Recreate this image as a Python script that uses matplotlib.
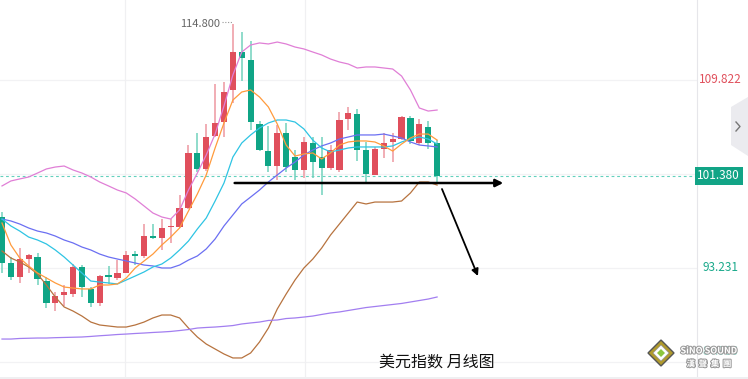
import numpy as np
import matplotlib
matplotlib.use('Agg')
import matplotlib.pyplot as plt
from matplotlib.patches import Polygon, Rectangle
from matplotlib.lines import Line2D
import matplotlib.patheffects as pe

plt.rcParams['font.family'] = ['Noto Sans CJK SC', 'DejaVu Sans']

# monthly candles
opens = [97.73, 93.67, 92.44, 94.05, 94.20, 92.08, 90.14, 90.85, 90.94, 93.32,
         91.38, 90.14, 92.62, 92.35, 92.79, 94.46, 94.29, 96.06, 95.88, 96.85,
         96.85, 98.53, 103.38, 101.97, 104.88, 106.12, 108.94, 112.29, 111.59, 105.94,
         103.56, 102.23, 105.14, 103.03, 101.88, 104.26, 103.03, 102.05, 101.88, 106.38,
         106.82, 103.64, 101.44, 103.73, 104.35, 104.62, 106.47, 104.26, 105.67, 104.26]
highs = [98.17, 94.20, 95.00, 94.46, 94.55, 92.44, 91.11, 91.73, 93.58, 93.50,
         91.56, 92.62, 93.41, 93.94, 94.73, 94.73, 97.11, 97.11, 97.56, 97.56,
         99.67, 104.09, 105.14, 105.94, 109.47, 109.65, 114.80, 114.06, 113.26, 106.20,
         105.76, 105.85, 106.03, 103.64, 104.79, 104.79, 104.79, 104.09, 107.00, 107.44,
         107.26, 104.35, 103.91, 105.14, 105.14, 106.65, 106.65, 106.38, 106.20, 104.53]
lows = [92.79, 92.17, 91.91, 92.79, 91.73, 89.70, 89.44, 89.88, 90.67, 90.67,
        89.79, 89.88, 91.82, 92.17, 92.79, 93.50, 94.11, 95.79, 94.82, 95.44,
        96.80, 98.40, 101.70, 101.79, 104.79, 104.79, 107.79, 109.73, 105.41, 103.55,
        101.70, 101.00, 101.70, 101.00, 101.17, 101.17, 99.67, 101.88, 101.70, 105.41,
        102.67, 100.82, 101.44, 102.94, 102.59, 104.50, 104.17, 104.10, 103.73, 100.73]
closes = [93.67, 92.44, 94.03, 94.35, 92.26, 90.14, 90.76, 91.11, 93.32, 91.56,
          90.14, 92.53, 92.44, 92.79, 94.38, 94.29, 96.06, 95.88, 96.76, 96.94,
          98.53, 103.38, 101.97, 104.79, 106.03, 108.76, 112.29, 111.76, 106.12, 103.64,
          102.23, 105.14, 102.14, 101.88, 104.35, 102.59, 102.05, 103.64, 106.29, 106.91,
          103.64, 101.53, 103.73, 104.26, 104.62, 106.56, 104.44, 105.94, 104.26, 101.38]

ma5 = [97.20, 95.26, 94.11, 93.41, 92.79, 92.35, 91.91, 91.55, 91.46, 91.38,
       91.38, 91.73, 91.73, 91.82, 92.35, 93.23, 93.85, 94.46, 95.26, 95.96,
       96.76, 98.26, 99.76, 101.44, 103.82, 106.03, 108.05, 108.76, 108.94, 108.32,
       107.44, 105.94, 104.08, 103.11, 103.29, 103.38, 102.85, 103.38, 104.08, 104.35,
       104.44, 104.44, 104.35, 104.00, 103.55, 104.17, 104.70, 105.05, 105.05, 104.52]
ma10 = [97.55, 96.94, 96.49, 95.96, 95.70, 95.35, 94.82, 94.20, 93.49, 92.79,
        92.08, 91.99, 91.91, 91.82, 92.17, 92.52, 92.88, 93.32, 93.58, 94.11,
        94.82, 95.61, 96.67, 97.64, 99.14, 100.73, 103.02, 104.26, 104.97, 105.58,
        106.03, 106.29, 106.29, 106.11, 105.50, 104.52, 103.82, 103.47, 103.64, 103.82,
        103.91, 103.91, 103.91, 103.91, 104.00, 104.35, 104.61, 104.79, 104.61, 104.17]
ma20 = [97.55, 97.38, 97.11, 96.76, 96.49, 96.32, 96.05, 95.70, 95.44, 95.08,
        94.82, 94.46, 94.20, 94.02, 93.85, 93.67, 93.49, 93.41, 93.23, 93.23,
        93.49, 93.93, 94.29, 94.91, 95.79, 96.94, 97.91, 98.88, 99.49, 100.11,
        100.82, 101.44, 102.05, 102.58, 103.20, 103.64, 104.00, 104.26, 104.61, 104.79,
        104.97, 104.97, 104.97, 105.05, 104.88, 104.70, 104.35, 104.08, 104.00, 103.91]
boll_up = [100.47, 100.91, 101.09, 101.26, 101.61, 101.97, 102.14, 102.23, 101.88, 101.61,
           101.26, 100.82, 100.47, 100.11, 99.85, 99.32, 98.70, 98.08, 97.73, 97.55,
           98.35, 100.11, 101.61, 103.20, 105.05, 107.53, 110.26, 112.29, 112.91, 113.09,
           113.00, 113.17, 113.00, 112.73, 112.56, 112.29, 112.03, 111.67, 111.41, 111.23,
           110.88, 110.97, 110.97, 110.88, 110.79, 110.17, 108.94, 107.35, 107.08, 107.17]
boll_dn = [94.73, 94.11, 93.76, 93.32, 92.70, 91.73, 90.67, 89.79, 89.43, 88.99,
           88.46, 88.20, 88.11, 88.02, 88.02, 88.20, 88.46, 88.82, 89.08, 89.08,
           88.82, 87.93, 87.14, 86.52, 86.08, 85.64, 85.29, 85.29, 85.73, 86.70,
           87.93, 89.61, 90.93, 92.17, 93.23, 94.02, 94.99, 96.14, 97.11, 98.08,
           99.05, 98.88, 99.05, 99.05, 99.05, 99.14, 99.85, 100.82, 100.82, 100.55]
ma_long = [86.96, 86.96, 87.01, 87.03, 87.05, 87.05, 87.08, 87.10, 87.12, 87.14,
           87.19, 87.25, 87.30, 87.36, 87.40, 87.45, 87.49, 87.54, 87.58, 87.63,
           87.71, 87.80, 87.93, 87.98, 88.02, 88.08, 88.15, 88.29, 88.38, 88.46,
           88.60, 88.64, 88.77, 88.82, 88.90, 88.99, 89.13, 89.26, 89.35, 89.48,
           89.61, 89.74, 89.83, 89.92, 90.01, 90.10, 90.23, 90.36, 90.49, 90.67]

axis_labels = ['109.822', '93.231', '84.936']
axis_vals = [109.822, 93.231, 85.9]
grid_vals = [109.822, 101.527, 93.231, 84.936]
peak_label = '114.800'
title = '美元指数 月线图'

UP = '#e04f5c'
DOWN = '#0fa586'
UP_WICK = '#ee97a0'
DOWN_WICK = '#72d2bd'

W, H = 748, 379
fig = plt.figure(figsize=(W / 100, H / 100), dpi=100)
fig.patch.set_facecolor('white')
ax = fig.add_axes([0, 2 / H, 697 / W, 377 / H])
ax.set_xlim(-0.225, 78.27)
ax.set_ylim(83.61, 116.88)
for s in ['top', 'left', 'bottom']:
    ax.spines[s].set_visible(False)
ax.spines['right'].set_color('#e6e6ea')
ax.spines['right'].set_linewidth(0.8)
ax.set_xticks([])
ax.set_yticks([])

# grid
for g in grid_vals:
    ax.axhline(g, color='#f2f2f4', lw=0.9, zorder=0)
for gx in [13.85, 34.1]:
    ax.axvline(gx, color='#f0f0f2', lw=0.9, zorder=0)

x = np.arange(len(opens))
o = np.array(opens); c = np.array(closes)
hi = np.array(highs); lo = np.array(lows)
up = c >= o
body_lo = np.minimum(o, c)
body_h = np.maximum(np.abs(c - o), 0.12)

ax.vlines(x[up], lo[up], hi[up], color=UP_WICK, lw=1.1, zorder=2)
ax.vlines(x[~up], lo[~up], hi[~up], color=DOWN_WICK, lw=1.1, zorder=2)
ax.bar(x[up], body_h[up], 0.7, bottom=body_lo[up], color=UP, lw=0, zorder=3)
ax.bar(x[~up], body_h[~up], 0.7, bottom=body_lo[~up], color=DOWN, lw=0, zorder=3)

# indicator lines
ax.plot(x, boll_up, color='#e07fd6', lw=0.9, zorder=4)
ax.plot(x, boll_dn, color='#b7733f', lw=0.9, zorder=4)
ax.plot(x, ma20, color='#6b6ff2', lw=0.9, zorder=4)
ax.plot(x, ma10, color='#2ec4e3', lw=0.9, zorder=4)
ax.plot(x, ma5, color='#ff9b3d', lw=0.9, zorder=4)
ax.plot(x, ma_long, color='#a27ef0', lw=0.9, zorder=4)

# last price line
last = closes[-1]
ax.axhline(last, color='#63d1bd', lw=0.8, ls=(0, (2.5, 2.5)), zorder=1)

# arrows drawn on the chart
ax.annotate('', xy=(56.45, 100.73), xytext=(26.2, 100.73),
            arrowprops=dict(arrowstyle='-|>', color='black', lw=1.8,
                            mutation_scale=11, shrinkA=0, shrinkB=0), zorder=6)
ax.annotate('', xy=(53.6, 92.52), xytext=(49.55, 100.2),
            arrowprops=dict(arrowstyle='-|>', color='black', lw=1.3,
                            mutation_scale=10, shrinkA=0, shrinkB=0), zorder=6)

# high marker
imax = int(np.argmax(highs))
ax.text(imax - 1.4, highs[imax] - 0.05, peak_label, ha='right', va='center',
        fontsize=8, color='#666666')
ax.plot([imax - 1.2, imax - 0.15], [highs[imax] + 0.12] * 2, color='#999999',
        lw=0.8, ls=(0, (1, 1.5)))

# right axis labels
tr = ax.get_yaxis_transform()
ax.text(1.034, axis_vals[0], axis_labels[0], transform=tr, ha='center', va='center',
        fontsize=8.5, color='#e0505c', clip_on=False)
ax.text(1.034, axis_vals[1], axis_labels[1], transform=tr, ha='center', va='center',
        fontsize=8.5, color='#1aa98b', clip_on=False)
ax.text(1.034, axis_vals[2], axis_labels[2], transform=tr, ha='center', va='center',
        fontsize=8.5, color='#1aa98b', alpha=0.45, clip_on=False)
ax.text(1.0005, last, f'{last:.3f}', transform=tr, ha='left', va='center',
        fontsize=8.5, color='white', clip_on=False,
        bbox=dict(boxstyle='square,pad=0.22', fc='#12a486', ec='none'))

# side tab
def px(pts):
    return [(a / W, 1 - b / H) for a, b in pts]

fig.patches.append(Polygon(px([(731, 107), (748, 97), (748, 156), (731, 145)]),
                           closed=True, fc='#ebebef', ec='none',
                           transform=fig.transFigure))
chev = px([(736, 122), (740, 126.5), (736, 131)])
fig.lines.append(Line2D([p[0] for p in chev], [p[1] for p in chev], color='#777777',
                        lw=1.0, transform=fig.transFigure))

# bottom strip
fig.patches.append(Rectangle((0, 0), 1, 2.5 / H, fc='#efeff1', ec='none',
                             transform=fig.transFigure))

# title
fig.text(437 / W, 1 - 362 / H, title, fontsize=11.5, color='#111111',
         ha='center', va='center')

# logo
cx, cy, r = 661, 353, 13
fig.patches.append(Polygon(px([(cx - r, cy), (cx, cy - r), (cx + r, cy), (cx, cy + r)]),
                           closed=True, fc='#b09a2c', ec='#555555', lw=1,
                           transform=fig.transFigure))
r2 = 8
fig.patches.append(Polygon(px([(cx - r2, cy), (cx, cy - r2), (cx + r2, cy), (cx, cy + r2)]),
                           closed=True, fc='white', ec='#999999', lw=0.5,
                           transform=fig.transFigure))
r3 = 4
fig.patches.append(Polygon(px([(cx - r3, cy), (cx, cy - r3), (cx + r3, cy), (cx, cy + r3)]),
                           closed=True, fc='#8cc63f', ec='none',
                           transform=fig.transFigure))
stroke = [pe.withStroke(linewidth=1.5, foreground='#9a9a9a')]
fig.text(709 / W, 1 - 351 / H, 'SiNO SOUND', fontsize=6.5, color='white',
         weight='bold', ha='center', va='center', path_effects=stroke)
fig.text(709 / W, 1 - 364 / H, '漢  聲  集  團', fontsize=6, color='white',
         weight='bold', ha='center', va='center', path_effects=stroke)

fig.savefig('out.png', dpi=100)
